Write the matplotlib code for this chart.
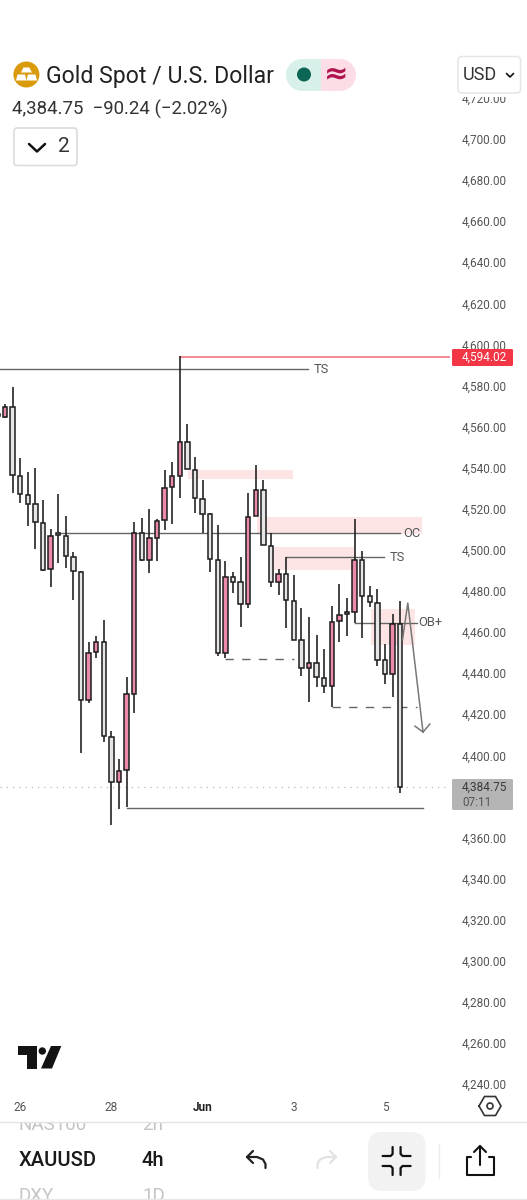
import matplotlib
matplotlib.use("Agg")
import matplotlib.pyplot as plt
from matplotlib.patches import Rectangle, FancyBboxPatch, Circle, Polygon, Wedge
from matplotlib.transforms import Bbox, TransformedBbox
import numpy as np

plt.rcParams['font.family'] = ['Roboto', 'DejaVu Sans']

opens  = [4566,4564.7,4569.5,4536.0,4526.7,4522.3,4513.1,4490.7,4508.0,4506.7,4496.5,4489.2,4426.9,4450.3,4455.1,4408.9,4387.0,4392.8,4429.8,4508.2,4495.1,4505.8,4514.5,4530.6,4536.0,4552.5,4538.9,4524.8,4517.5,4495.1,4449.8,4486.8,4484.3,4473.6,4516.5,4529.1,4501.9,4484.3,4488.2,4475.1,4456.1,4442.5,4444.9,4437.6,4433.7,4465.4,4468.8,4469.8,4495.1,4477.5,4474.1,4446.4,4439.6,4463.9]
highs  = [4570,4571.0,4579.3,4544.7,4537.9,4539.9,4524.3,4510.2,4527.2,4516.5,4499.0,4489.7,4455.1,4458.1,4465.9,4411.8,4398.2,4438.1,4513.6,4515.5,4519.9,4515.0,4538.9,4542.8,4594.4,4561.3,4545.2,4534.0,4517.9,4512.1,4494.6,4489.2,4496.5,4527.7,4541.3,4534.0,4508.2,4490.7,4496.5,4487.8,4471.7,4467.3,4458.6,4451.7,4472.7,4483.4,4476.6,4515.0,4499.5,4482.4,4480.9,4454.2,4468.8,4475.1]
lows   = [4564,4564.2,4527.7,4522.8,4511.6,4500.4,4489.7,4481.9,4493.6,4491.2,4475.6,4401.1,4425.5,4447.4,4406.4,4366.1,4373.9,4374.8,4420.6,4494.6,4488.7,4494.6,4509.7,4512.6,4525.2,4539.4,4517.9,4508.2,4489.2,4448.3,4447.4,4479.0,4462.5,4471.7,4516.5,4502.4,4481.9,4478.0,4462.0,4456.1,4438.6,4425.9,4433.2,4430.3,4423.5,4455.1,4458.1,4464.4,4457.1,4472.2,4443.5,4434.7,4428.4,4381.6]
closes = [4565,4569.5,4536.5,4527.2,4522.3,4513.6,4490.2,4506.7,4507.3,4497.0,4489.7,4426.9,4449.8,4455.1,4409.4,4387.0,4392.4,4429.8,4508.2,4495.1,4505.8,4514.1,4530.1,4536.0,4552.5,4539.4,4525.2,4517.5,4495.6,4449.8,4486.8,4484.3,4473.6,4516.0,4529.1,4502.4,4484.3,4488.2,4475.6,4456.1,4442.5,4444.9,4438.1,4433.7,4464.9,4468.3,4469.8,4495.1,4477.5,4474.6,4446.4,4439.6,4463.9,4384.75]

price_ticks = [p for p in range(4240, 4721, 20) if p != 4380]
date_ticks = [3, 15, 27, 39, 51]
date_labels = ['26', '28', 'Jun', '3', '5']

last_price = 4384.75
red_price = 4594.02

# zones: j0, j1, price low, price high
zones = [(25.1, 38.9, 4534.5, 4538.9), (34.2, 55.9, 4507.7, 4516.0),
         (36.1, 46.9, 4490.2, 4501.4), (49.2, 54.9, 4453.7, 4471.2)]
# levels: j0, j1, price, style
levels = [(-1, 40.9, 4588.0, '-'), (8, 53, 4508.2, '-'), (38, 50.9, 4496.5, '-'),
          (47, 55.2, 4464.4, '-'), (30, 39, 4446.9, (0, (6, 6))),
          (44, 55.2, 4423.5, (0, (6, 6))), (17, 56, 4374.5, '-')]
level_labels = [('TS', 42.6, 4588.0), ('OC', 54.55, 4508.2), ('TS', 52.6, 4496.5), ('OB+', 57.0, 4464.4)]
arrow_x = [53.3, 54.0, 56.0]
arrow_y = [4456.1, 4474.1, 4411.3]
head_x = [54.95, 56.0, 56.9]
head_y = [4414.2, 4411.3, 4415.2]

W, H = 527, 1200
fig = plt.figure(figsize=(W/100, H/100), dpi=100, facecolor='white')

# chart axes: x px 0..450, y px 92..1095
ax = fig.add_axes([0, 1-1095/H, 450/W, (1095-92)/H])
ax.set_xlim(2.6/7.6, (450+2.6)/7.6)
ax.set_ylim(4700-(1095-139)*0.48678, 4700-(92-139)*0.48678)
for s in ax.spines.values():
    s.set_visible(False)
ax.yaxis.tick_right()
ax.set_yticks(price_ticks)
ax.set_yticklabels([f"{p:,.2f}" for p in price_ticks], fontsize=8.5, color='#555555', va='center_baseline')
ax.tick_params(axis='y', length=0, pad=8.6)
ax.set_xticks(date_ticks)
ax.set_xticklabels(date_labels, fontsize=8.5, color='#555555')
ax.get_xticklabels()[2].set_fontweight('bold')
ax.get_xticklabels()[2].set_color('#222222')
ax.tick_params(axis='x', length=0, pad=4)

for j0, j1, p0, p1 in zones:
    ax.add_patch(Rectangle((j0, p0), j1-j0, p1-p0, fc='#fde5e6', ec='none', zorder=1))

ax.plot([0.3, 59.6], [last_price]*2, color='#bbbbbb', lw=0.9, ls=(0, (1, 4)), zorder=1.5)

for j0, j1, p, ls in levels:
    ax.plot([j0, j1], [p, p], color='#666666', lw=1.0, ls=ls, zorder=2)
ax.plot([24, 59.6], [red_price]*2, color='#f07880', lw=1.2, zorder=2)
for txt, j, p in level_labels:
    ax.text(j, p, txt, fontsize=9.3, color='#555555', ha='center', va='center', zorder=5)

x = np.arange(len(opens))
o, h, l, c = map(np.array, (opens, highs, lows, closes))
up = c >= o
ax.vlines(x, l, h, color='#1c1c1c', lw=1.15, zorder=3)
ax.bar(x, np.abs(c-o), bottom=np.minimum(o, c), width=0.6,
       color=np.where(up, '#ec8aac', '#e6e6e6'), edgecolor='#1c1c1c', linewidth=1.1, zorder=4)

ax.plot(arrow_x, arrow_y, color='#777777', lw=1.1, zorder=5)
ax.plot(head_x, head_y, color='#777777', lw=1.1, zorder=5)

# overlay in pixels for the app's interface
ov = fig.add_axes([0, 0, 1, 1], zorder=10)
ov.set_xlim(0, W); ov.set_ylim(H, 0); ov.axis('off'); ov.patch.set_alpha(0)

def rbox(x0, y0, x1, y1, r, fc, ec='none', lw=1.0, z=2):
    ov.add_patch(FancyBboxPatch((x0+r, y0+r), x1-x0-2*r, y1-y0-2*r, boxstyle=f"round,pad={r}",
                                fc=fc, ec=ec, lw=lw, zorder=z))

def poly(pts, col='#111111', lw=1.6, z=6):
    a = np.array(pts)
    ov.plot(a[:, 0], a[:, 1], color=col, lw=lw, solid_capstyle='round', solid_joinstyle='round', zorder=z)

# top white cover
ov.add_patch(Rectangle((0, 0), W, 97, fc='white', ec='none', zorder=1))

# gold icon
ov.add_patch(Circle((26.4, 74.5), 13, fc='#d99a0c', ec='none', zorder=3))
ov.add_patch(Polygon([(23.4, 67.5), (29.4, 67.5), (32, 72.5), (21, 72.5)], fc='white', ec='none', zorder=4))
ov.add_patch(Polygon([(17.5, 74.5), (25, 74.5), (26.4, 80.5), (16, 80.5)], fc='white', ec='none', zorder=4))
ov.add_patch(Polygon([(28, 74.5), (35.5, 74.5), (37, 80.5), (26.4, 80.5)], fc='white', ec='none', zorder=4))

ov.text(46, 76, 'Gold Spot / U.S. Dollar', fontsize=16.6, color='#222222', va='center', ha='left', zorder=5)
ov.text(12, 109, '4,384.75  \u221290.24 (\u22122.02%)', fontsize=13.4, color='#333333', va='center', ha='left', zorder=5)

# status pill
ov.add_patch(Wedge((302, 75), 16, 90, 270, fc='#d8f0ea', ec='none', zorder=3))
ov.add_patch(Rectangle((302, 59), 19, 32, fc='#d8f0ea', ec='none', zorder=3))
ov.add_patch(Wedge((340, 75), 16, 270, 90, fc='#fcdde6', ec='none', zorder=3))
ov.add_patch(Rectangle((321, 59), 19, 32, fc='#fcdde6', ec='none', zorder=3))
ov.add_patch(Circle((304, 74.5), 7, fc='#0b6655', ec='none', zorder=4))
ov.text(336.5, 74, '\u2248', fontsize=21, color='#b0144f', fontweight='bold', ha='center', va='center',
        family=['DejaVu Sans'], zorder=5)

# legend toggle
rbox(14, 128, 77, 165.5, 3, 'white', ec='#dcdcdc', lw=1.2)
poly([(29, 144), (37, 151.5), (45, 144)], lw=1.8)
ov.text(64, 146.5, '2', fontsize=15, color='#333333', ha='center', va='center', zorder=5)

# currency button
rbox(458, 56.5, 520.5, 93, 4, 'white', ec='#e6e6e6', lw=1.1)
ov.text(479.5, 75, 'USD', fontsize=13, color='#333333', ha='center', va='center', zorder=5)
poly([(506.5, 73.5), (510, 77), (513.5, 73.5)], lw=1.2)

# price tags
rbox(452, 349, 513, 366, 1.5, '#f23645')
ov.text(462, 357.5, '4,594.02', fontsize=8.5, color='white', ha='left', va='center', zorder=5)
rbox(452, 779, 513, 810, 1.5, '#b4b4b4')
ov.text(462, 787, '4,384.75', fontsize=8.5, color='#3a3a3a', ha='left', va='center', zorder=5)
ov.text(462, 802, '07:11', fontsize=8.5, color='#555555', ha='left', va='center', zorder=5)

# TradingView logo
ov.add_patch(Polygon([(17.5, 1046), (37, 1046), (37, 1068.5), (26.5, 1068.5), (26.5, 1055), (17.5, 1055)],
                     fc='#131313', ec='none', zorder=4))
ov.add_patch(Circle((42.3, 1051), 3.7, fc='#131313', ec='none', zorder=4))
ov.add_patch(Polygon([(51, 1046), (61.3, 1046), (52, 1068.5), (41, 1068.5)], fc='#131313', ec='none', zorder=4))

# settings hexagon
hexa = [(479, 1106), (484.5, 1096.5), (495.5, 1096.5), (501, 1106), (495.5, 1115.5), (484.5, 1115.5), (479, 1106)]
poly(hexa, col='#333333', lw=1.2)
ov.add_patch(Circle((490, 1106), 3, fc='none', ec='#333333', lw=1.2, zorder=6))

# bottom toolbar
ov.add_patch(Rectangle((0, 1121.5), W, 80, fc='white', ec='none', zorder=1))
ov.plot([0, W], [1121.5, 1121.5], color='#e3e3e3', lw=1.0, zorder=7)
ov.plot([0, W], [1199, 1199], color='#e8e8e8', lw=1.0, zorder=7)
clip = TransformedBbox(Bbox([[0, 1122], [W, 1198.5]]), ov.transData)
for txt, xx, yy, col in [('NAS100', 19, 1125.5, '#c4c4c4'), ('2h', 142, 1125.5, '#c4c4c4'),
                         ('DXY', 19, 1196, '#c4c4c4'), ('1D', 142, 1196, '#c4c4c4')]:
    t = ov.text(xx, yy, txt, fontsize=13.5, color=col, ha='left', va='center', zorder=2)
    t.set_clip_box(clip)
    t.set_clip_on(True)
ov.text(19, 1160, 'XAUUSD', fontsize=14.5, color='#1a1a1a', fontweight='medium', ha='left', va='center', zorder=5)
ov.text(142, 1160, '4h', fontsize=14.5, color='#1a1a1a', fontweight='medium', ha='left', va='center', zorder=5)

def undo(cx, col, s):
    poly([(cx+s*9.5, 1168), (cx+s*9.5, 1164), (cx+s*7, 1159.5), (cx+s*1, 1157), (cx-s*9, 1157)], col=col, lw=1.6)
    poly([(cx-s*3, 1151), (cx-s*9, 1157), (cx-s*3, 1163)], col=col, lw=1.6)
undo(256, '#222222', 1)
undo(327, '#e2e2e2', -1)

rbox(368, 1132, 425.5, 1191, 14, '#f2f2f2')
for sx, sy in [(-1, -1), (1, -1), (-1, 1), (1, 1)]:
    cx, cy = 396.6, 1161
    poly([(cx+sx*4, cy+sy*14), (cx+sx*4, cy+sy*7), (cx+sx*6, cy+sy*5), (cx+sx*14, cy+sy*5)], lw=1.6)

ov.plot([438.5, 438.5], [1144, 1178], color='#ececec', lw=1.0, zorder=3)

poly([(471, 1157), (466.5, 1157), (466.5, 1175), (493.5, 1175), (493.5, 1157), (489, 1157)], lw=1.5)
poly([(480, 1165), (480, 1146)], lw=1.5)
poly([(474, 1152), (480, 1146), (486, 1152)], lw=1.5)

fig.savefig('out.png', dpi=100, facecolor='white')
